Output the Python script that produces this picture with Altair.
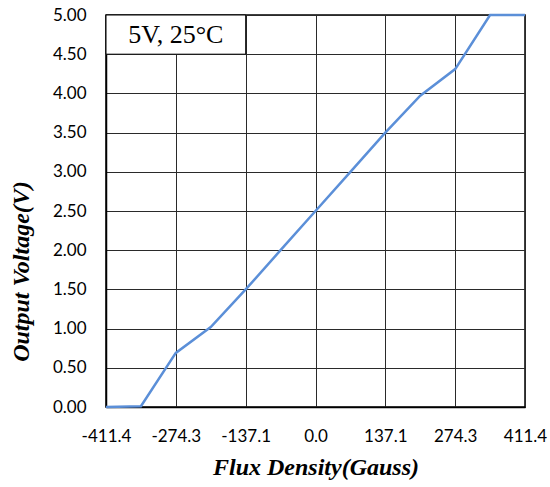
import altair as alt
import pandas as pd

flux = [-411.4, -342.8, -274.3, -205.7, -137.1, -68.6, 0.0, 68.6, 137.1, 205.7, 274.3, 342.8, 411.4]
voltage = [0.00, 0.01, 0.69, 1.02, 1.50, 2.00, 2.50, 3.00, 3.50, 3.97, 4.31, 5.00, 5.00]
x_ticks = [-411.4, -274.3, -137.1, 0.0, 137.1, 274.3, 411.4]
y_ticks = [0.0, 0.5, 1.0, 1.5, 2.0, 2.5, 3.0, 3.5, 4.0, 4.5, 5.0]
note_text = ["5V, 25°C"]
note_box = {"x": [-411.4], "x2": [-137.1], "y": [4.5], "y2": [5.0]}

df = pd.DataFrame({"flux": flux, "voltage": voltage})
box_df = pd.DataFrame(note_box)
text_df = pd.DataFrame({"x": [-274.3], "y": [4.75], "t": note_text})

xscale = alt.Scale(domain=[-411.4, 411.4], nice=False, zero=False)
yscale = alt.Scale(domain=[0, 5], nice=False)

label_font = "Lato"
title_font = "Liberation Serif"

xaxis = alt.Axis(values=x_ticks, title="Flux Density(Gauss)",
                 labelExpr="(datum.value < 0 ? '-' : '') + format(abs(datum.value), '.1f')",
                 labelFont=label_font, labelFontSize=17, labelColor="black",
                 labelPadding=21, tickSize=0, grid=True, gridColor="#2a2a2a",
                 gridWidth=1, domainColor="black", domainWidth=1.5,
                 titleFont=title_font, titleFontSize=24, titleFontStyle="italic",
                 titleFontWeight="bold", titleColor="black", titlePadding=11,
                 labelFlush=False, labelOverlap=False)
yaxis = alt.Axis(values=y_ticks, format=".2f", title="Output Voltage(V)",
                 labelFont=label_font, labelFontSize=17, labelColor="black",
                 labelPadding=20, tickSize=0, grid=True, gridColor="#2a2a2a",
                 gridWidth=1, domainColor="black", domainWidth=1.5,
                 titleFont=title_font, titleFontSize=24, titleFontStyle="italic",
                 titleFontWeight="bold", titleColor="black",
                 titleX=-85, titleY=256, titleAngle=-90, titleBaseline="middle",
                 labelFlush=False, labelOverlap=False)

line = alt.Chart(df).mark_line(color="#5B8FD8", strokeWidth=2.5).encode(
    x=alt.X("flux:Q", scale=xscale, axis=xaxis),
    y=alt.Y("voltage:Q", scale=yscale, axis=yaxis),
)

box = alt.Chart(box_df).mark_rect(fill="white", stroke="black", strokeWidth=1).encode(
    x=alt.X("x:Q", scale=xscale, axis=xaxis), x2="x2:Q",
    y=alt.Y("y:Q", scale=yscale, axis=yaxis), y2="y2:Q",
)

txt = alt.Chart(text_df).mark_text(font=title_font, fontSize=26, color="black",
                                   align="center", baseline="middle").encode(
    x=alt.X("x:Q", scale=xscale, axis=xaxis),
    y=alt.Y("y:Q", scale=yscale, axis=yaxis), text="t:N"
)

chart = (line + box + txt).properties(
    width=419, height=392,
    background="white",
    autosize=alt.AutoSizeParams(type="none"),
    padding={"left": 106, "top": 15, "right": 25, "bottom": 80},
).configure_view(stroke="black", strokeWidth=1.5)

chart.save("out.html", embed_options={"renderer": "svg", "actions": False})
